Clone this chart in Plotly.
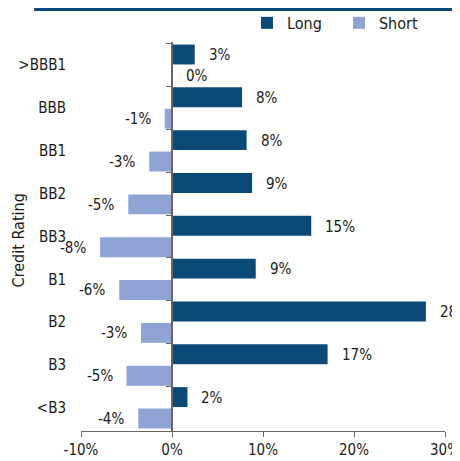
import plotly.graph_objects as go

# credit rating buckets, top to bottom
ratings = ['>BBB1', 'BBB', 'BB1', 'BB2', 'BB3', 'B1', 'B2', 'B3', '<B3']

# bar lengths (%)
long_vals = [2.5, 7.7, 8.2, 8.8, 15.3, 9.2, 27.9, 17.1, 1.7]
short_vals = [0.0, -0.8, -2.5, -4.8, -7.9, -5.8, -3.4, -5.0, -3.7]

# printed data labels
long_labels = ['3%', '8%', '8%', '9%', '15%', '9%', '28%', '17%', '2%']
short_labels = ['0%', '-1%', '-3%', '-5%', '-8%', '-6%', '-3%', '-5%', '-4%']

x_ticks = [-10, 0, 10, 20, 30]
x_ticktext = ['-10%', '0%', '10%', '20%', '30%']

LONG_COLOR = '#0b4a78'
SHORT_COLOR = '#8fa3d4'
AXIS_COLOR = '#6b6464'
TEXT_COLOR = '#1a1a1a'
FONT = 'DejaVu Sans Condensed'

fig = go.Figure()

fig.add_trace(go.Bar(
    y=ratings, x=long_vals, orientation='h', name='Long',
    marker=dict(color=LONG_COLOR, line=dict(width=0)),
))
fig.add_trace(go.Bar(
    y=ratings, x=short_vals, orientation='h', name='Short',
    marker=dict(color=SHORT_COLOR, line=dict(width=0)),
))

# invisible trace so the zero-line axis knows the categories
fig.add_trace(go.Scatter(
    y=ratings, x=[0] * len(ratings), yaxis='y2', mode='markers',
    marker=dict(opacity=0), showlegend=False, hoverinfo='skip',
))

# data labels
annotations = []
for cat, v, lab in zip(ratings, long_vals, long_labels):
    annotations.append(dict(
        x=v, y=cat, text=lab, showarrow=False, xanchor='left',
        xshift=12, yshift=10, font=dict(size=15, color=TEXT_COLOR, family=FONT),
    ))
for cat, v, lab in zip(ratings, short_vals, short_labels):
    right = v >= 0
    annotations.append(dict(
        x=v, y=cat, text=lab, showarrow=False,
        xanchor='left' if right else 'right',
        xshift=12 if right else -12, yshift=-11,
        font=dict(size=15, color=TEXT_COLOR, family=FONT),
    ))

# y axis title
annotations.append(dict(
    x=-0.173, y=0.49, xref='paper', yref='paper', text='Credit Rating',
    textangle=-90, showarrow=False, xanchor='center', yanchor='middle',
    font=dict(size=16, color=TEXT_COLOR, family=FONT),
))

fig.update_layout(
    width=460, height=461,
    margin=dict(l=73, r=23, t=34, b=38, autoexpand=False),
    paper_bgcolor='white', plot_bgcolor='white',
    font=dict(family=FONT, size=15, color=TEXT_COLOR),
    barmode='group', bargap=0.0, bargroupgap=0.07,
    showlegend=True,
    legend=dict(
        orientation='h', x=0.456, y=1.049, xanchor='left', yanchor='middle',
        itemwidth=30, entrywidth=47, entrywidthmode='pixels',
        font=dict(size=16, family=FONT), bgcolor='rgba(0,0,0,0)',
        traceorder='normal',
    ),
    xaxis=dict(
        range=[-10, 30], tickvals=x_ticks, ticktext=x_ticktext,
        showgrid=False, zeroline=False, automargin=False,
        showline=True, linecolor=AXIS_COLOR, linewidth=1,
        ticks='outside', ticklen=5, tickcolor=AXIS_COLOR,
        tickfont=dict(size=15),
    ),
    yaxis=dict(
        type='category', categoryorder='array', categoryarray=ratings,
        autorange='reversed', showgrid=False, zeroline=False,
        showline=False, ticks='', ticklabelstandoff=14, automargin=False,
        tickfont=dict(size=15),
    ),
    yaxis2=dict(
        type='category', categoryorder='array', categoryarray=ratings,
        overlaying='y', matches='y', anchor='free', position=0.25,
        autorange='reversed', showgrid=False, zeroline=False, automargin=False,
        showline=True, linecolor=AXIS_COLOR, linewidth=1.5,
        ticks='outside', tickson='boundaries', ticklen=5,
        tickcolor=AXIS_COLOR, showticklabels=False,
    ),
    annotations=annotations,
    shapes=[dict(
        type='line', xref='paper', yref='paper',
        x0=-0.129, x1=1.063, y0=1.0835, y1=1.0835,
        line=dict(color=LONG_COLOR, width=3),
    )],
)

fig.write_html('out.html')
